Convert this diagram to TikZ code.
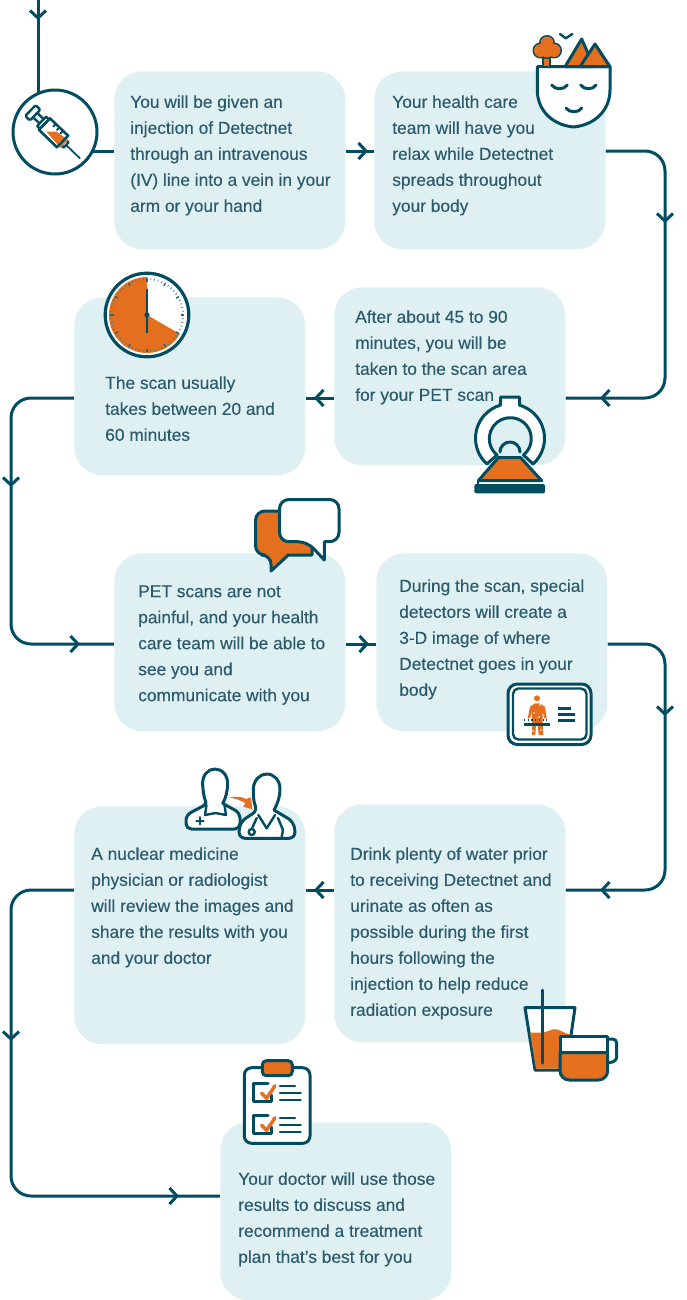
\documentclass[tikz,border=0pt]{standalone}
\usepackage{fontspec}
\setmainfont{Liberation Sans}[FakeBold=0.25]
\usepackage{xcolor}
\usetikzlibrary{backgrounds}
\definecolor{ink}{HTML}{004C61}
\definecolor{body}{HTML}{2B5B6B}
\definecolor{pale}{HTML}{DFF0F3}
\definecolor{flame}{HTML}{E46F1F}
\tikzset{
  stepbox/.style={fill=pale, rounded corners=21pt, inner sep=0pt, minimum width=173.25pt, minimum height=133.5pt, anchor=north west},
  tallbox/.style={stepbox, minimum height=178.5pt},
  steptext/.style={text=body, inner sep=0pt, anchor=north west, align=left, font=\fontsize{13}{19.5}\selectfont},
  flow/.style={draw=ink, line width=2.25pt, line join=round},
  flowbend/.style={flow, rounded corners=15pt},
  chev/.style={draw=ink, line width=2.25pt, line join=miter},
  ico/.style={draw=ink, line width=2.25pt, line cap=round, line join=round},
  fine/.style={draw=ink, line width=1.8pt, line cap=round, line join=round},
  hot/.style={fill=flame},
  clear/.style={fill=white},
}
\begin{document}
\begin{tikzpicture}[x=0.75pt,y=-0.75pt]
  \useasboundingbox (0,0) rectangle (686,1300);
  % step boxes
  \node[stepbox] (box1) at (114,71) {};
  \node[stepbox] (box2) at (374,71) {};
  \node[stepbox] (box3) at (334,287) {};
  \node[stepbox] (box4) at (74,297) {};
  \node[stepbox] (box5) at (114,553) {};
  \node[stepbox] (box6) at (376,553) {};
  \node[tallbox] (box7) at (334,804) {};
  \node[tallbox] (box8) at (74,806) {};
  \node[stepbox] (box9) at (220,1122) {};
  \node[steptext] (txt1) at (130,95) {You will be given an\\injection of Detectnet\\through an intravenous\\(IV) line into a vein in your\\arm or your hand};
  \node[steptext] (txt2) at (392,95) {Your health care\\team will have you\\relax while Detectnet\\spreads throughout\\your body};
  \node[steptext] (txt3) at (355,310) {After about 45 to 90\\minutes, you will be\\taken to the scan area\\for your PET scan};
  \node[steptext] (txt4) at (105,376) {The scan usually\\takes between 20 and\\60 minutes};
  \node[steptext] (txt5) at (138,585) {PET scans are not\\painful, and your health\\care team will be able to\\see you and\\communicate with you};
  \node[steptext] (txt6) at (399,579) {During the scan, special\\detectors will create a\\3-D image of where\\Detectnet goes in your\\body};
  \node[steptext] (txt7) at (350,847) {Drink plenty of water prior\\to receiving Detectnet and\\urinate as often as\\possible during the first\\hours following the\\injection to help reduce\\radiation exposure};
  \node[steptext] (txt8) at (91,847) {A nuclear medicine\\physician or radiologist\\will review the images and\\share the results with you\\and your doctor};
  \node[steptext] (txt9) at (238,1172) {Your doctor will use those\\results to discuss and\\recommend a treatment\\plan that’s best for you};
  % syringe circle
  \node[circle, draw=ink, fill=white, line width=2.25pt, minimum size=63pt, inner sep=0pt] (shot) at (55,132) {};
  \coordinate (start) at (38,0);
  \coordinate (railR) at (665,0);
  \coordinate (railL) at (11,0);
  \coordinate (rowA) at (0,151);
  \coordinate (rowB) at (0,398);
  \coordinate (rowC) at (0,644);
  \coordinate (rowD) at (0,890);
  \coordinate (rowE) at (0,1196);
  % connectors
  \begin{scope}[on background layer]
    \draw[flow] (start) -- (start |- shot.center);
    \draw[flow] (shot.center |- rowA) -- (box1.west |- rowA);
    \draw[flow] (box1.east |- rowA) -- (box2.west |- rowA);
    \draw[flowbend] (box2.east |- rowA) -- (railR |- rowA) -- (railR |- rowB) -- (box3.east |- rowB);
    \draw[flow] (box3.west |- rowB) -- (box4.east |- rowB);
    \draw[flowbend] (box4.west |- rowB) -- (railL |- rowB) -- (railL |- rowC) -- (box5.west |- rowC);
    \draw[flow] (box5.east |- rowC) -- (box6.west |- rowC);
    \draw[flowbend] (box6.east |- rowC) -- (railR |- rowC) -- (railR |- rowD) -- (box7.east |- rowD);
    \draw[flow] (box7.west |- rowD) -- (box8.east |- rowD);
    \draw[flowbend] (box8.west |- rowD) -- (railL |- rowD) -- (railL |- rowE) -- (box9.west |- rowE);
  \end{scope}
  \foreach \x/\y/\a in {38/18/-90, 366/151/0, 665/221/-90, 602/398/180, 316/398/180, 11/485/-90, 78/644/0, 367/644/0, 665/714/-90, 602/890/180, 316/890/180, 11/1039/-90, 177/1196/0}
    \draw[chev, shift={(\x,\y)}, rotate=\a] (-7.5,-8) -- (0,0) -- (-7.5,8);
  % syringe
  \begin{scope}[shift={(33,113)}, rotate=-44]
    \draw[fine, clear, rounded corners=1pt] (-3.5,-7.5) rectangle (3,7.5);
    \draw[fine, clear] (3,-3) rectangle (12,3);
    \draw[fine, clear] (12,-6.5) rectangle (16,6.5);
    \draw[fine, clear] (16,-8) rectangle (41,8);
    \draw[fine, clear] (41,-3.5) rectangle (46,3.5);
    \draw[draw=ink, line width=1.3pt, line cap=round] (46,0) -- (65,0);
  \end{scope}
  \fill[flame] (46.5,131.7) -- (56.7,131.7) -- (68,140) -- (60.5,148) -- cycle;
  \begin{scope}[shift={(33,113)}, rotate=-44]
    \draw[draw=ink, line width=1.6pt] (16,-8) rectangle (41,8);
    \foreach \t in {24,29,34} \draw[draw=ink, line width=1.4pt] (\t,-8) -- (\t,-4);
  \end{scope}
  % relaxed head
  \draw[ico, clear] (537.3,66.7) -- (610,66.7) -- (610,90) .. controls (610,110) and (595,125) .. (573.5,127) .. controls (552,125) and (537.3,110) .. (537.3,90) -- cycle;
  \draw[ico] (551.7,85) .. controls (555,90) and (564,90) .. (567.3,85);
  \draw[ico] (580.7,85) .. controls (584,90) and (593,90) .. (596,85);
  \draw[ico] (566,108) .. controls (569,113) and (579,113) .. (581.7,108);
  \draw[fine, hot] (543,66.7) rectangle (550,55);
  \foreach \x/\y in {547/43, 540.5/50.5, 554/50.5, 547/51} \draw[ico] (\x,\y) circle (6.5);
  \foreach \x/\y in {547/43, 540.5/50.5, 554/50.5, 547/51} \fill[flame] (\x,\y) circle (6.5);
  \draw[ico, hot] (581.7,39) -- (565,66.7) -- (594,66.7) -- cycle;
  \draw[ico, hot] (595,44) -- (580,66.7) -- (610,66.7) -- cycle;
  \draw[fine] (560,34) -- (565.7,38.3) -- (572.3,34);
  % clock
  \draw[draw=ink, fill=white, line width=2.4pt] (147,315) circle (41.8);
  \fill[flame] (147,315) -- ++(-90:38) arc[start angle=-90, end angle=-330, radius=38] -- cycle;
  \foreach \a in {0,6,...,354} \draw[draw=ink!75, line width=0.5pt] (147,315) ++(\a:35) -- ++(\a:2);
  \foreach \a in {0,30,...,330} \draw[draw=ink!85, line width=1pt] (147,315) ++(\a:33.5) -- ++(\a:3.5);
  \draw[draw=ink, line width=1.9pt] (147,288.5) -- (147,332.5);
  \fill[ink] (147,315) circle (2.6);
  % scanner
  \draw[ico, clear] (510,438.3) ++(132:34.5) arc[start angle=132, end angle=254, radius=34.5] -- (500.5,397) -- (519.5,397) -- (519.5,405.2) arc[start angle=286, end angle=408, radius=34.5] -- (523.5,455) arc[start angle=51, end angle=-231, radius=21] -- cycle;
  \draw[ico] (500,452) arc[start angle=180, end angle=360, radius=10];
  \draw[ico, hot] (498.3,457.7) -- (520.7,457.7) -- (541.7,480.7) -- (478.3,480.7) -- cycle;
  \draw[fine] (478,482) -- (478,486);
  \fill[ink, rounded corners=1.5pt] (474.3,484) rectangle (545,493.3);
  % speech bubbles
  \draw[ico, hot, rounded corners=7pt] (300,511) -- (255.5,511) -- (255.5,555) -- (271,555) [sharp corners] -- (271,571) -- (288.3,555) -- (312,555) -- (312,530) -- cycle;
  \draw[ico, clear] (307.3,541.7) -- (324.3,560) -- (324.3,541.7) [rounded corners=7pt] -- (339,541.7) -- (339,499.5) -- (279.5,499.5) -- (279.5,541.7) -- cycle;
  % screen
  \draw[ico, clear, rounded corners=7pt] (508,684) rectangle (591,744.5);
  \draw[fine, rounded corners=4pt] (513,688.5) rectangle (586.5,739.5);
  \fill[flame] (537,698.3) circle (3);
  \fill[flame] (535,703.3) -- (539.3,703.3) -- (545,706.7) -- (546.7,718.3) -- (544.3,718.3) -- (542.7,711.7) -- (542.7,725) -- (543.3,735) -- (538.7,735) -- (537.7,725) -- (536,725) -- (535.3,735) -- (532,735) -- (532.3,725) -- (531.7,711.7) -- (530,718.3) -- (527.7,718.3) -- (530,706.7) -- cycle;
  \foreach \x/\y in {540/705, 534/713, 539/717, 533/731, 541/730} \fill[white] (\x,\y) circle (0.9);
  \draw[draw=ink, line width=0.8pt, dotted] (524,720) -- (550,720);
  \draw[draw=ink, line width=1.9pt] (524,724.3) -- (550,724.3);
  \foreach \y/\e in {708.3/571, 714.3/575, 720.7/575} \draw[draw=ink, line width=1.9pt] (558.3,\y) -- (\e,\y);
  % two doctors
  \draw[ico, clear] (208.3,803.3) .. controls (204,798) and (203,790) .. (202.7,785) .. controls (202,775) and (208,769) .. (215,769) .. controls (222,769) and (228,775) .. (227.7,785) .. controls (227,792) and (226,798) .. (222.7,803.3) [rounded corners=4pt] -- (240,813) -- (240,829) -- (186,829) -- (186,815) -- cycle;
  \draw[fine] (206.5,805) -- (205,815) -- (215.5,813) -- (226,815) -- (224.5,805);
  \draw[fine] (196.5,820.7) -- (203.5,820.7);
  \draw[fine] (200,817.2) -- (200,824.2);
  \fill[flame] (229,797.5) .. controls (236,796) and (242,796.5) .. (246,799) -- (251,797.3) -- (252.3,809.3) -- (243.3,806.7) -- (245.5,803) .. controls (241,800.5) and (236,798.5) .. cycle;
  \draw[ico, clear] (258.3,810) .. controls (254,803) and (253,795) .. (253.3,788.3) .. controls (254,780) and (260,774) .. (266.7,774) .. controls (274,774) and (280,780) .. (280,789.3) .. controls (280,796) and (278,803) .. (274,810) [rounded corners=5pt] -- (294,822) -- (295.5,838.3) -- (238.5,838.3) -- (240,822) -- cycle;
  \draw[fine] (258.3,815) -- (266.7,828.3) -- (275,815);
  \draw[fine] (256.7,818) -- (251.7,829);
  \draw[fine, clear] (251.7,832) circle (3);
  \draw[fine] (278,818) -- (283,830) -- (281.7,836.7);
  % drinks
  \draw[ico, clear] (525,1007.7) -- (575,1007.7) -- (566,1070) -- (535,1070) -- cycle;
  \fill[flame] (530,1032.7) .. controls (540,1032.7) and (545,1033) .. (552,1029.5) .. controls (558,1027.5) and (562,1033) .. (572,1035) -- (566,1068.5) -- (536,1068.5) -- cycle;
  \draw[ico] (542.3,990) -- (542.3,1063);
  \draw[ico, rounded corners=3pt] (607.7,1039) -- (616.7,1039) -- (616.7,1061) -- (607.7,1063);
  \fill[white] (560,1036.7) rectangle (607.7,1053);
  \draw[ico, hot] (560,1052.7) -- (607.7,1052.7) [rounded corners=7pt] -- (607.7,1080) -- (560,1080) [sharp corners] -- (560,1052.7);
  \draw[ico] (560,1052.7) -- (560,1036.7) -- (607.7,1036.7) -- (607.7,1052.7);
  % clipboard
  \draw[ico, clear, rounded corners=5.5pt] (244.3,1067.7) rectangle (310,1143.3);
  \draw[ico, hot, rounded corners=3pt] (262.3,1060.7) rectangle (292.3,1075.7);
  \foreach \y in {0,32} {
    \draw[ico] (268,1083.3+\y) -- (253.3,1083.3+\y) -- (253.3,1101.7+\y) -- (271.7,1101.7+\y) -- (271.7,1095+\y);
    \draw[draw=flame, line width=2.6pt, line cap=round, line join=round] (261.7,1093.3+\y) -- (266.7,1098.3+\y) -- (275,1085.7+\y);
    \draw[fine] (280,1085.7+\y) -- (295,1085.7+\y);
    \draw[fine] (280,1092.9+\y) -- (300.7,1092.9+\y);
    \draw[fine] (280,1100+\y) -- (300.7,1100+\y);
  }
\end{tikzpicture}
\end{document}
